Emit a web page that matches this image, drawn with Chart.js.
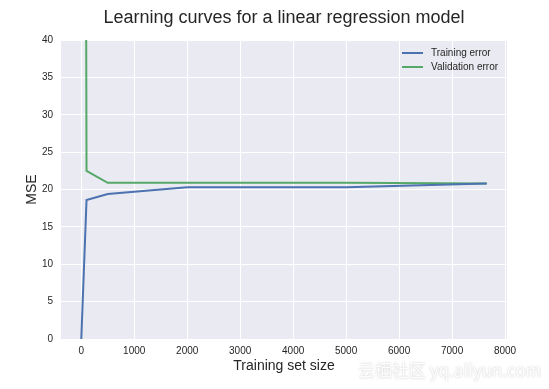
<!DOCTYPE html>
<html>
<head>
<meta charset="utf-8">
<script src="https://cdn.jsdelivr.net/npm/chart.js@4"></script>
<style>
  body { margin: 0; background: #fff; }
  #wrap { position: relative; width: 549px; height: 389px; }
  #mark {
    position: absolute; left: 358px; top: 357px;
    font-family: "Noto Sans CJK SC", "Liberation Sans", sans-serif;
    font-size: 17px; color: rgba(255,255,255,0.95);
    text-shadow: 0 0 2px rgba(120,120,120,0.45);
    white-space: nowrap;
  }
</style>
</head>
<body>
<div id="wrap">
  <canvas id="curves" width="549" height="389"></canvas>
  <div id="mark">云栖社区 yq.aliyun.com</div>
</div>
<script>
// training set sizes and errors
var sizes = [1, 100, 500, 2000, 5000, 7654];
var trainErr = [0, 18.6, 19.4, 20.3, 20.3, 20.8];
var valErr = [300, 22.5, 20.9, 20.9, 20.9, 20.8];
var xTicks = [0, 1000, 2000, 3000, 4000, 5000, 6000, 7000, 8000];
var yTicks = [0, 5, 10, 15, 20, 25, 30, 35, 40];

var ink = '#262626';
var font = "'Liberation Sans', Arial, sans-serif";

function points(ys) {
    return sizes.map(function (s, i) { return { x: s, y: ys[i] }; });
}

// grey panel behind the plot, seaborn style
var panel = {
    id: 'panel',
    beforeDraw: function (chart) {
        var a = chart.chartArea, c = chart.ctx;
        c.save();
        c.fillStyle = '#EAEAF2';
        c.fillRect(a.left, a.top, a.right - a.left, a.bottom - a.top);
        c.restore();
    },
    afterDraw: function (chart) {
        var a = chart.chartArea, c = chart.ctx;
        c.save();
        c.fillStyle = ink;
        c.font = '18px ' + font;
        c.textAlign = 'center';
        c.textBaseline = 'middle';
        c.fillText('Learning curves for a linear regression model', (a.left + a.right) / 2, 18);
        c.restore();
    }
};

// legend drawn inside the plot, upper right
var innerLegend = {
    id: 'innerLegend',
    afterDatasetsDraw: function (chart) {
        var c = chart.ctx;
        c.save();
        c.font = '10px ' + font;
        c.textBaseline = 'middle';
        chart.data.datasets.forEach(function (ds, i) {
            var y = 53 + i * 14;
            c.strokeStyle = ds.borderColor;
            c.lineWidth = 2;
            c.beginPath();
            c.moveTo(402, y);
            c.lineTo(423, y);
            c.stroke();
            c.fillStyle = ink;
            c.fillText(ds.label, 431, y);
        });
        c.restore();
    }
};

function plain(v) { return String(v); }

var ctx = document.getElementById('curves').getContext('2d');
var chart = new Chart(ctx, {
    type: 'line',
    data: {
        datasets: [
            {
                label: 'Training error',
                data: points(trainErr),
                borderColor: '#4C72B0',
                borderWidth: 2,
                pointRadius: 0,
                tension: 0,
                fill: false
            },
            {
                label: 'Validation error',
                data: points(valErr),
                borderColor: '#55A868',
                borderWidth: 2,
                pointRadius: 0,
                tension: 0,
                fill: false
            }
        ]
    },
    options: {
        responsive: false,
        animation: false,
        layout: { padding: { top: 40, right: 42, bottom: 14, left: 24 } },
        plugins: {
            legend: { display: false },
            tooltip: { enabled: false }
        },
        scales: {
            x: {
                type: 'linear',
                min: -382,
                max: 8037,
                afterBuildTicks: function (scale) {
                    scale.ticks = xTicks.map(function (v) { return { value: v }; });
                },
                afterFit: function (scale) { scale.height = 36; },
                grid: { color: '#ffffff', lineWidth: 1, drawTicks: false },
                border: { display: false },
                ticks: {
                    color: ink,
                    padding: 6,
                    maxRotation: 0,
                    callback: plain,
                    font: { family: font, size: 10 }
                },
                title: {
                    display: true,
                    text: 'Training set size',
                    color: ink,
                    padding: 0,
                    font: { family: font, size: 14 }
                }
            },
            y: {
                min: 0,
                max: 40,
                afterBuildTicks: function (scale) {
                    scale.ticks = yTicks.map(function (v) { return { value: v }; });
                },
                afterFit: function (scale) { scale.width = 37; },
                grid: { color: '#ffffff', lineWidth: 1, drawTicks: false },
                border: { display: false },
                ticks: {
                    color: ink,
                    padding: 8,
                    callback: plain,
                    font: { family: font, size: 10 }
                },
                title: {
                    display: true,
                    text: 'MSE',
                    color: ink,
                    padding: 0,
                    font: { family: font, size: 14 }
                }
            }
        }
    },
    plugins: [panel, innerLegend]
});
</script>
</body>
</html>
